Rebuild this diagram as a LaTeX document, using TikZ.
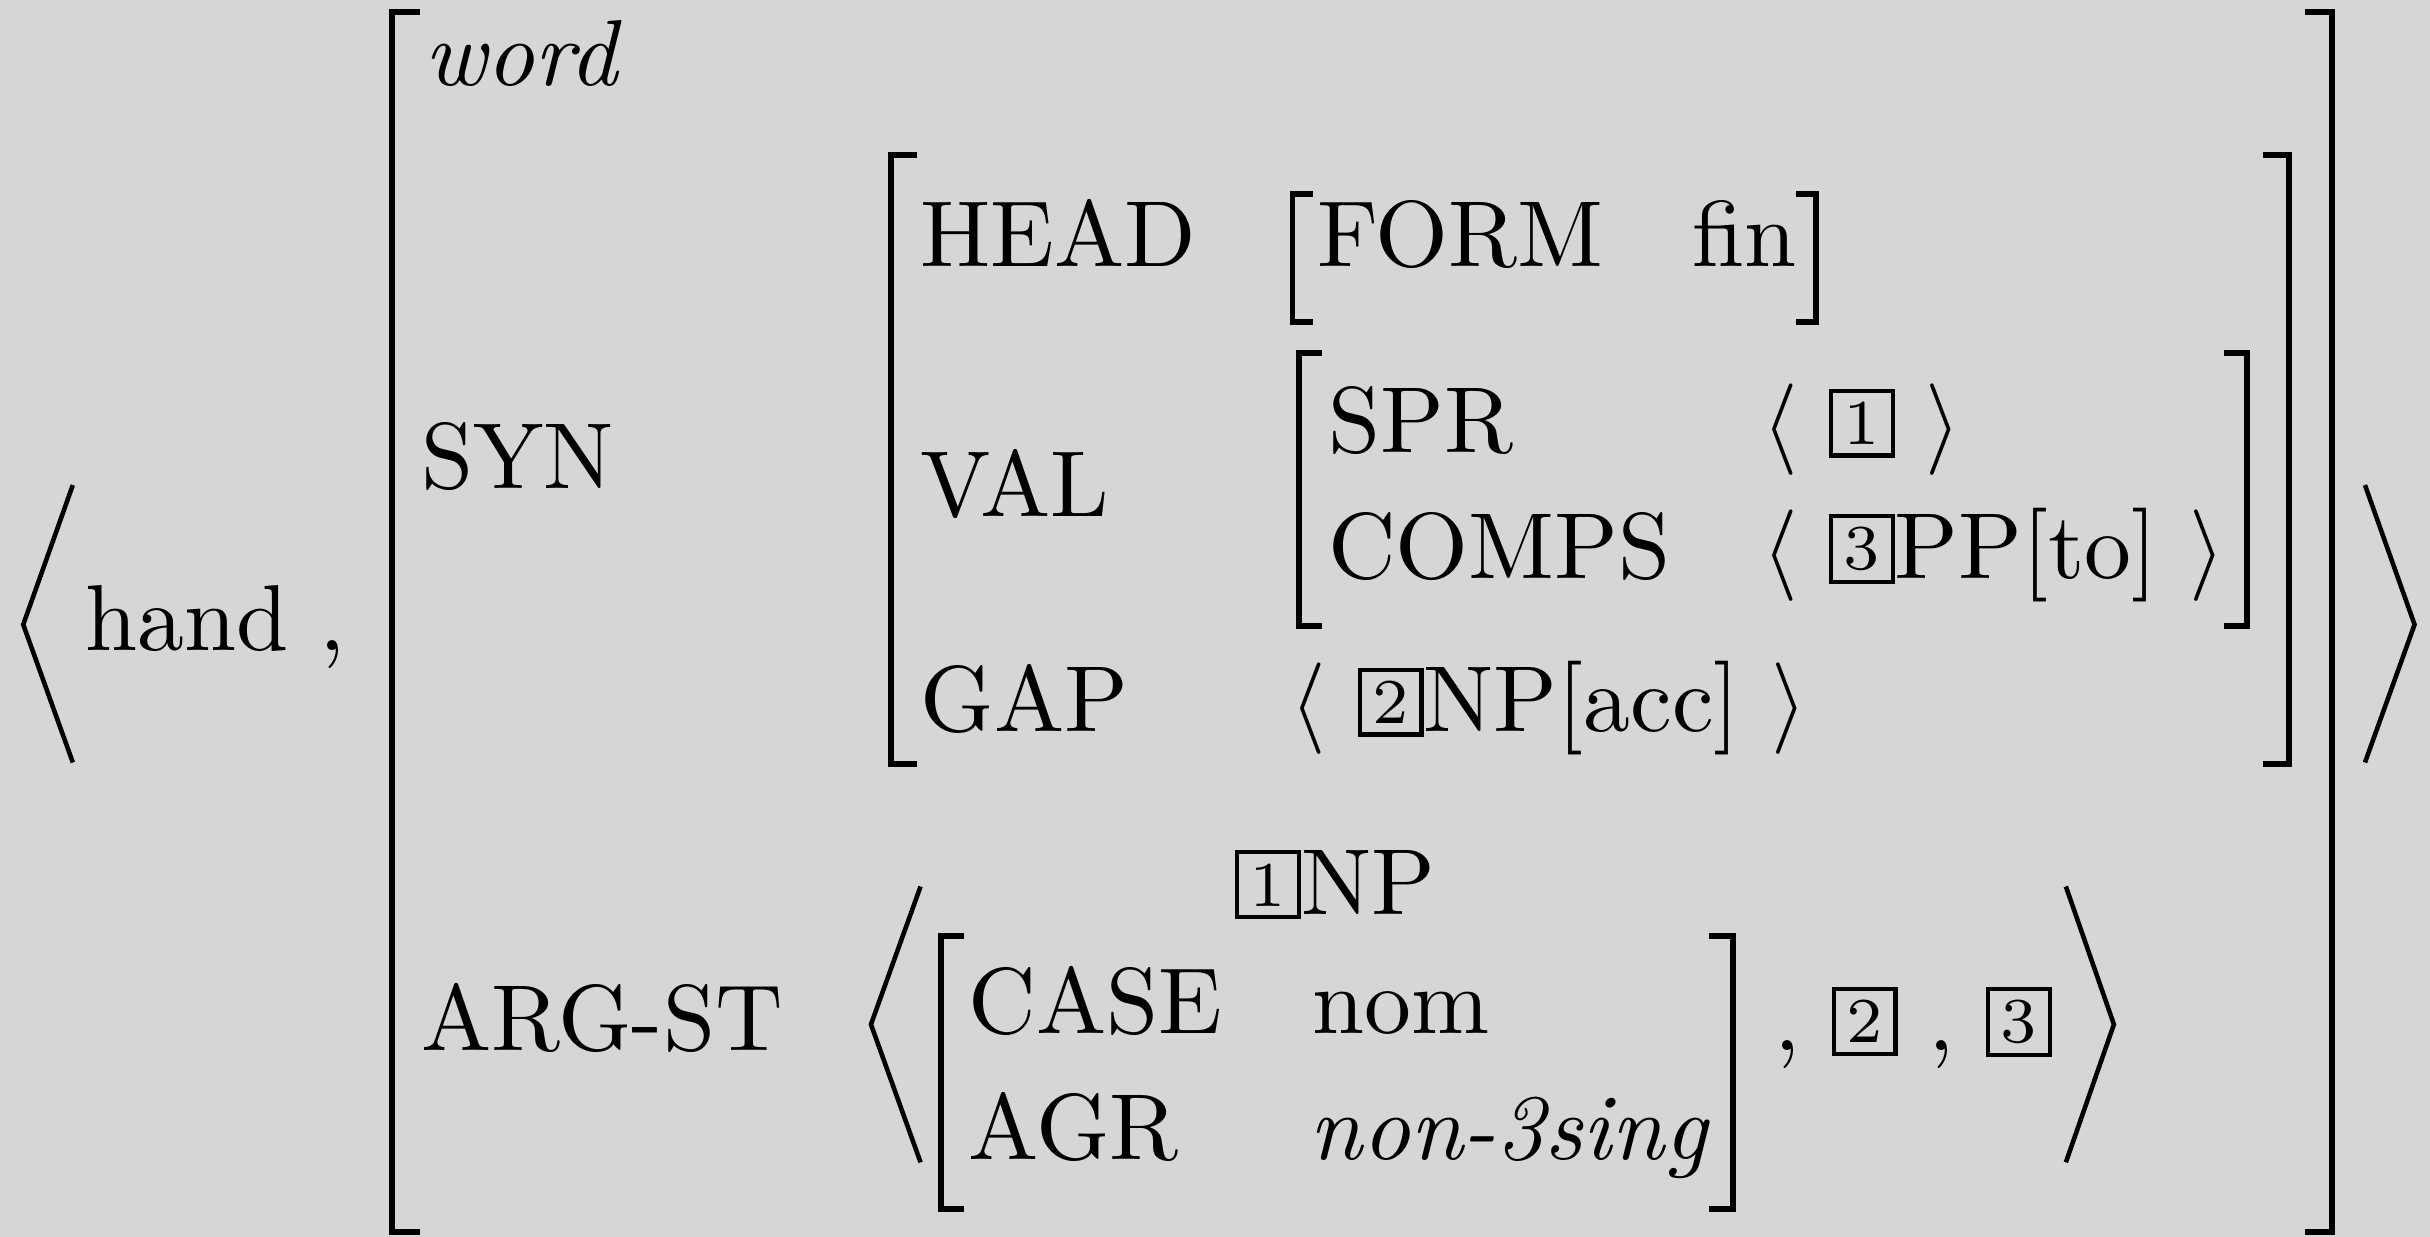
\documentclass[tikz,border=0pt]{standalone}
\usepackage{xcolor}
\definecolor{bggray}{HTML}{D6D6D6}
% boxed tag number
\newcommand{\tagnum}[1]{\raisebox{0.9pt}{\setlength{\fboxsep}{1pt}\setlength{\fboxrule}{0.45pt}\fbox{\makebox[4.3pt]{\fontsize{7}{8}\selectfont #1}}}}
\tikzset{
    lbl/.style={anchor=base west, inner sep=0pt, outer sep=0pt, font=\fontsize{10.25}{12}\selectfont},
    brk/.style={line width=0.65pt, line join=miter},
    ang/.style={line width=0.5pt, line join=miter}
}
\begin{document}
\begin{tikzpicture}[x=0.16949pt, y=-0.16949pt]
    \useasboundingbox (0,0) rectangle (1568,798);
    \fill[bggray] (0,0) rectangle (1568,798);

    % Outer angle brackets
    \draw[ang] (47,313) -- (15,403) -- (47,492);
    \draw[ang] (1526,313) -- (1558,403) -- (1526,492);

    % Left brackets: x / top / bottom / hook
    \foreach \x/\t/\b/\h in {253/8/795/18, 575/100/493/17, 834/125/208/13, 838/228/404/15, 607/604/780/15}
        \draw[brk] ({\x+\h},\t) -- (\x,\t) -- (\x,\b) -- ({\x+\h},\b);

    % Right brackets
    \foreach \x/\t/\b/\h in {1505/8/795/18, 1477/100/493/17, 1172/125/208/13, 1450/228/404/15, 1118/604/780/15}
        \draw[brk] ({\x-\h},\t) -- (\x,\t) -- (\x,\b) -- ({\x-\h},\b);

    % ARG-ST list brackets
    \draw[ang] (594,572) -- (562,661) -- (594,750);
    \draw[ang] (1333,572) -- (1364,661) -- (1333,750);

    % Features and values
    \node[lbl] (hand) at (55,420) {hand ,};
    \node[lbl] (word) at (274,55) {\textit{word}};
    \node[lbl] (syn) at (272,315) {SYN};

    \node[lbl] (head) at (594,172) {HEAD};
    \node[lbl] (form) at (850,172) {FORM};
    \node[lbl] (fin) at (1092,172) {fin};

    \node[lbl] (val) at (594,333) {VAL};
    \node[lbl] (spr) at (857,292) {SPR};
    \node[lbl] (sprv) at (1137,292) {$\langle$ \tagnum{1} $\rangle$};
    \node[lbl] (comps) at (857,373) {COMPS};
    \node[lbl] (compsv) at (1137,373) {$\langle$ \tagnum{3}PP[to] $\rangle$};

    \node[lbl] (gap) at (594,472) {GAP};
    \node[lbl] (gapv) at (833,472) {$\langle$ \tagnum{2}NP[acc] $\rangle$};

    \node[lbl] (argst) at (272,678) {ARG-ST};
    \node[lbl] (subj) at (797,590) {\tagnum{1}NP};
    \node[lbl] (case) at (625,667) {CASE};
    \node[lbl] (nom) at (847,667) {nom};
    \node[lbl] (agr) at (625,748) {AGR};
    \node[lbl] (agrv) at (845,748) {\textit{non-3sing}};
    \node[lbl] (rest) at (1145,678) {, \tagnum{2} , \tagnum{3}};
\end{tikzpicture}
\end{document}
